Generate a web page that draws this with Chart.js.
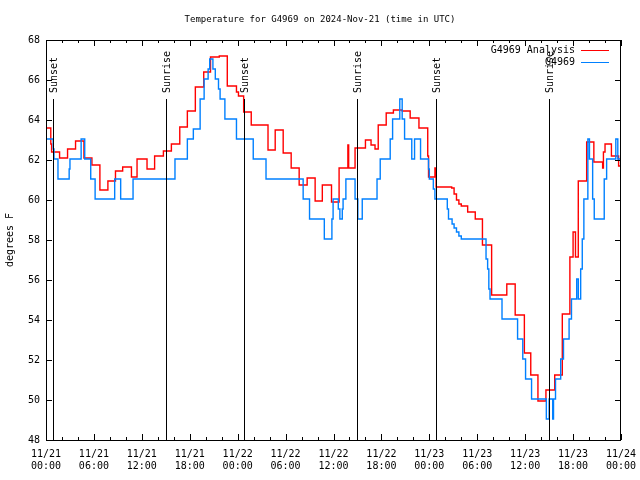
<!DOCTYPE html>
<html>
<head>
<meta charset="utf-8">
<script src="https://cdn.jsdelivr.net/npm/chart.js@4.4.1/dist/chart.umd.min.js"></script>
<style>
  html, body { margin: 0; padding: 0; background: #fff; }
  canvas { display: block; }
</style>
</head>
<body>
<canvas id="tempChart" width="640" height="480"></canvas>
<script>
// hours since 11/21 00:00 UTC where each step starts, and its value (deg F)
const analysisHours = [0, 0.6, 0.7, 1.7, 2.7, 3.7, 4.75, 5.75, 6.75, 7.75, 8.7, 9.6, 10.7, 11.4, 12.65, 13.6, 14.7, 15.7, 16.75, 17.7,
  18.7, 19.75, 20.6, 21.7, 22.7, 23.85, 24.1, 24.75, 25.7, 27.8, 28.7, 29.7, 30.7, 31.7, 32.7, 33.7, 34.6, 35.75, 36.7, 37.8,
  37.9, 38.7, 40.0, 40.7, 41.2, 41.6, 42.6, 43.5, 44.6, 45.6, 46.7, 47.8, 47.9, 48.7, 48.85, 50.8, 51.1, 51.4, 51.7, 52.0,
  52.8, 53.75, 54.65, 55.8, 57.7, 58.75, 59.9, 60.7, 61.6, 62.6, 63.7, 64.65, 65.6, 66.0, 66.3, 66.65, 67.7, 68.6, 69.7, 69.8,
  70.0, 70.8, 71.7, 72];
const analysisTemps = [63.6, 62.8, 62.4, 62.1, 62.55, 62.95, 62.1, 61.75, 60.5, 60.95, 61.45, 61.65, 61.15, 62.05, 61.55, 62.2, 62.45, 62.8, 63.65, 64.45,
  65.65, 66.4, 67.15, 67.2, 65.7, 65.4, 65.2, 64.4, 63.75, 62.5, 63.5, 62.35, 61.6, 60.75, 61.1, 59.95, 60.75, 59.9, 61.6, 62.75,
  61.6, 62.6, 63.0, 62.75, 62.55, 63.75, 64.35, 64.5, 64.45, 64.1, 63.6, 62.2, 61.15, 61.6, 60.65, 60.6, 60.3, 60.0, 59.8, 59.7,
  59.4, 59.05, 57.75, 55.25, 55.8, 54.25, 52.35, 51.25, 49.95, 50.5, 51.25, 54.3, 57.15, 58.4, 57.15, 60.95, 62.9, 61.9, 61.6, 62.4,
  62.8, 62.2, 61.7, 61.7];

const stationHours = [0, 0.9, 1.0, 1.5, 2.9, 3.0, 4.4, 4.85, 5.6, 6.15, 8.6, 9.35, 10.9, 16.15, 17.7, 18.45, 19.3, 19.8, 20.3, 20.5,
  20.9, 21.2, 21.6, 21.8, 22.4, 23.85, 25.95, 27.55, 32.2, 33.0, 34.85, 35.8, 35.95, 36.6, 36.8, 37.1, 37.2, 37.55, 38.7, 39.05,
  39.6, 41.45, 41.85, 43.1, 43.4, 44.3, 44.6, 44.9, 45.8, 46.15, 46.9, 47.9, 48.0, 48.5, 48.7, 50.25, 50.4, 50.85, 51.1, 51.4,
  51.7, 52.0, 55.1, 55.3, 55.45, 55.6, 57.1, 59.05, 59.7, 60.05, 60.8, 62.65, 63.0, 63.45, 63.55, 63.8, 64.45, 64.8, 65.5, 65.8,
  66.45, 66.65, 66.95, 67.15, 67.35, 67.85, 68.05, 68.45, 68.65, 69.9, 70.2, 71.35, 71.6, 72];
const stationTemps = [63.05, 62.55, 62.05, 61.05, 61.55, 62.05, 63.05, 62.05, 61.05, 60.05, 61.05, 60.05, 61.05, 62.05, 63.05, 63.55, 65.05, 66.05, 66.55, 67.05,
  66.55, 66.05, 65.55, 65.05, 64.05, 63.05, 62.05, 61.05, 60.05, 59.05, 58.05, 59.05, 60.05, 59.55, 59.05, 59.55, 60.05, 61.05, 60.05, 59.05,
  60.05, 61.05, 62.05, 63.05, 64.05, 65.05, 64.05, 63.05, 62.05, 63.05, 62.05, 61.55, 61.05, 60.55, 60.05, 59.55, 59.05, 58.8, 58.6, 58.4,
  58.2, 58.05, 57.05, 56.55, 55.55, 55.05, 54.05, 53.05, 52.05, 51.05, 50.05, 49.05, 50.05, 49.05, 50.05, 51.05, 52.05, 53.05, 54.05, 55.05,
  56.05, 55.05, 56.55, 58.05, 60.05, 63.05, 62.05, 60.05, 59.05, 61.05, 62.05, 63.05, 62.05, 62.05];

const tickLabels = [['11/21', '00:00'], ['11/21', '06:00'], ['11/21', '12:00'], ['11/21', '18:00'],
  ['11/22', '00:00'], ['11/22', '06:00'], ['11/22', '12:00'], ['11/22', '18:00'],
  ['11/23', '00:00'], ['11/23', '06:00'], ['11/23', '12:00'], ['11/23', '18:00'], ['11/24', '00:00']];

const sunHours = [0.9, 15.03, 24.8, 38.97, 48.85, 63.02];
const sunLabels = ['Sunset', 'Sunrise', 'Sunset', 'Sunrise', 'Sunset', 'Sunrise'];

const FONT = '"DejaVu Sans Mono", "Liberation Mono", monospace';

function toPoints(xs, ys) {
  return xs.map((h, i) => ({ x: h, y: ys[i] }));
}

// box, inward ticks, sunrise/sunset markers and the gnuplot-style key
const gnuplotFrame = {
  id: 'gnuplotFrame',
  afterDatasetsDraw(chart) {
    const { ctx, chartArea: a, scales: { x, y } } = chart;
    ctx.save();
    ctx.strokeStyle = '#000';
    ctx.lineWidth = 1;

    sunHours.forEach((h, i) => {
      const px = Math.round(x.getPixelForValue(h)) + 0.5;
      const top = Math.round(y.getPixelForValue(65.05));
      ctx.beginPath();
      ctx.moveTo(px, a.bottom);
      ctx.lineTo(px, top);
      ctx.stroke();
      ctx.save();
      ctx.translate(px + 1, top - 6);
      ctx.rotate(-Math.PI / 2);
      ctx.font = '10px ' + FONT;
      ctx.fillStyle = '#000';
      ctx.textAlign = 'left';
      ctx.textBaseline = 'middle';
      ctx.fillText(sunLabels[i], 0, 0);
      ctx.restore();
    });

    ctx.beginPath();
    for (let v = 48; v <= 68; v += 2) {
      const py = Math.round(y.getPixelForValue(v)) + 0.5;
      ctx.moveTo(a.left, py); ctx.lineTo(a.left + 6, py);
      ctx.moveTo(a.right, py); ctx.lineTo(a.right - 6, py);
    }
    for (let h = 0; h <= 72; h += 2) {
      const px = Math.round(x.getPixelForValue(h)) + 0.5;
      const len = h % 6 === 0 ? 6 : 3;
      ctx.moveTo(px, a.bottom); ctx.lineTo(px, a.bottom - len);
      ctx.moveTo(px, a.top); ctx.lineTo(px, a.top + len);
    }
    ctx.stroke();
    ctx.strokeRect(Math.round(a.left) + 0.5, Math.round(a.top) + 0.5, Math.round(a.right - a.left) - 1, Math.round(a.bottom - a.top));

    ctx.font = '10px ' + FONT;
    ctx.textAlign = 'right';
    ctx.textBaseline = 'middle';
    chart.data.datasets.forEach((ds, i) => {
      const ly = a.top + 10 + i * 12;
      ctx.fillStyle = '#000';
      ctx.fillText(ds.label, a.right - 46, ly);
      ctx.strokeStyle = ds.borderColor;
      ctx.beginPath();
      ctx.moveTo(a.right - 40, ly + 0.5);
      ctx.lineTo(a.right - 12, ly + 0.5);
      ctx.stroke();
    });
    ctx.restore();
  }
};

const ctx = document.getElementById('tempChart').getContext('2d');
const tempChart = new Chart(ctx, {
  type: 'line',
  data: {
    datasets: [{
      label: 'G4969 Analysis',
      data: toPoints(analysisHours, analysisTemps),
      borderColor: 'rgb(255, 0, 0)',
      borderWidth: 1.4,
      stepped: true,
      pointRadius: 0,
      order: 1
    }, {
      label: 'G4969',
      data: toPoints(stationHours, stationTemps),
      borderColor: 'rgb(0, 128, 255)',
      borderWidth: 1.4,
      stepped: true,
      pointRadius: 0,
      order: 0
    }]
  },
  options: {
    responsive: false,
    animation: false,
    layout: { padding: 0 },
    plugins: {
      legend: { display: false },
      tooltip: { enabled: false },
      title: {
        display: true,
        text: 'Temperature for G4969 on 2024-Nov-21 (time in UTC)',
        color: '#000',
        font: { family: FONT, size: 9, weight: 'normal', lineHeight: 10 / 9 },
        padding: { top: 15, bottom: 15 }
      }
    },
    scales: {
      x: {
        type: 'linear',
        min: 0,
        max: 72,
        afterFit: (scale) => {
          scale.height = 40;
          scale.paddingLeft = 0;
          scale.paddingRight = 19;
        },
        grid: { display: false, drawTicks: false },
        border: { display: false },
        ticks: {
          stepSize: 6,
          autoSkip: false,
          maxRotation: 0,
          padding: 8,
          color: '#000',
          font: { family: FONT, size: 10, lineHeight: 1.25 },
          callback: (v) => tickLabels[v / 6]
        }
      },
      y: {
        min: 48,
        max: 68,
        afterFit: (scale) => { scale.width = 46; },
        grid: { display: false, drawTicks: false },
        border: { display: false },
        title: {
          display: true,
          text: 'degrees F',
          color: '#000',
          font: { family: FONT, size: 10, lineHeight: 1.2 },
          padding: { top: 4, bottom: 0 }
        },
        ticks: {
          stepSize: 2,
          padding: 6,
          color: '#000',
          font: { family: FONT, size: 10 }
        }
      }
    }
  },
  plugins: [gnuplotFrame]
});
</script>
</body>
</html>
